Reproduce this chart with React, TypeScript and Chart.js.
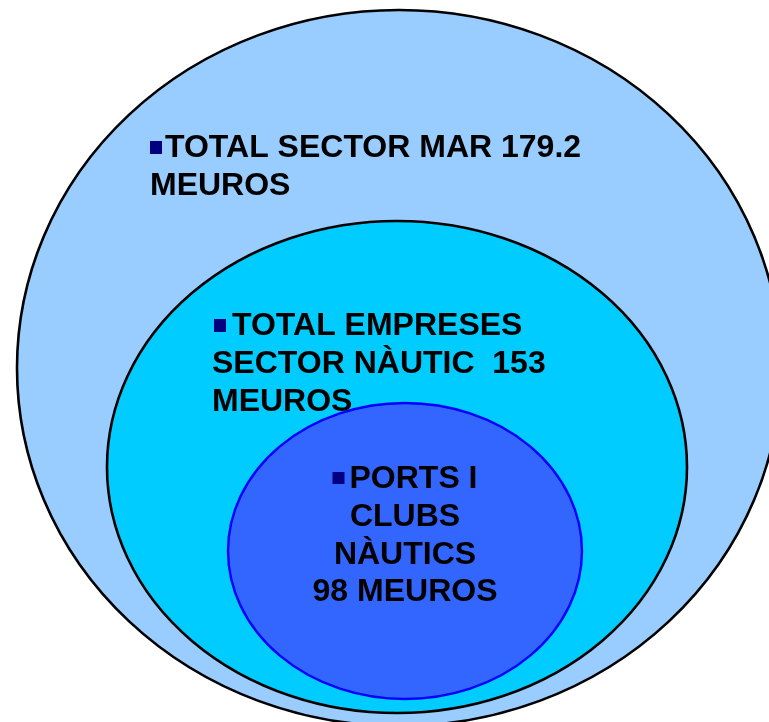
import React, { useEffect, useRef } from "react";
import { Chart, registerables } from "chart.js";

Chart.register(...registerables);

// ---- data ----
const categories = ["TOTAL SECTOR MAR", "TOTAL EMPRESES SECTOR NÀUTIC", "PORTS I CLUBS NÀUTICS"];
const valuesMEuros = [179.2, 153, 98];
const unitLabel = "MEUROS";
const labelLines = [
  ["TOTAL SECTOR MAR " + valuesMEuros[0], unitLabel],
  ["TOTAL EMPRESES", "SECTOR NÀUTIC  " + valuesMEuros[1], unitLabel],
  ["PORTS I", "CLUBS", "NÀUTICS", valuesMEuros[2] + " " + unitLabel],
];

// ---- layout (data units of the hidden scales) ----
const centerX = [399, 397, 405];
const centerY = [368, 467, 551];
const radiusX = [382, 290, 177];
const radiusY = [358, 246, 148];

const fillColors = ["#99CCFF", "#00CCFF", "#3366FF"];
const strokeColors = ["#000000", "#000000", "#0000FF"];
const strokeWidths = [2.6, 2.6, 2.4];

const textBlocks = [
  { align: "left", bulletX: 150, textX: 165, restX: 150, baseline: 157 },
  { align: "left", bulletX: 214, textX: 232, restX: 212, baseline: 335 },
  { align: "center", centerX: 405, baseline: 488 },
];
const LINE_H = 37.8;
const FONT = "bold 32px 'Liberation Sans', Arial, sans-serif";
const BULLET = 13;

const ellipsePlugin = {
  id: "nestedEllipses",
  beforeDatasetsDraw(chart: any) {
    const { ctx } = chart;
    const xs = chart.scales.x;
    const ys = chart.scales.y;
    chart.data.datasets.forEach((ds: any) => {
      const p = ds.data[0];
      const cx = xs.getPixelForValue(p.x);
      const cy = ys.getPixelForValue(p.y);
      const rx = Math.abs(xs.getPixelForValue(p.x + p.rx) - cx);
      const ry = Math.abs(ys.getPixelForValue(p.y + p.ry) - cy);
      ctx.save();
      ctx.beginPath();
      ctx.ellipse(cx, cy, rx, ry, 0, 0, Math.PI * 2);
      ctx.fillStyle = ds.backgroundColor;
      ctx.fill();
      ctx.lineWidth = ds.borderWidth;
      ctx.strokeStyle = ds.borderColor;
      ctx.stroke();
      ctx.restore();
    });
  },
  afterDatasetsDraw(chart: any) {
    const { ctx } = chart;
    ctx.save();
    ctx.font = FONT;
    ctx.textBaseline = "alphabetic";
    labelLines.forEach((lines, i) => {
      const b: any = textBlocks[i];
      lines.forEach((line, j) => {
        const yb = b.baseline + j * LINE_H;
        if (b.align === "left") {
          if (j === 0) {
            ctx.fillStyle = "#000080";
            ctx.fillRect(b.bulletX, yb - 3 - BULLET, BULLET - 1, BULLET);
            ctx.fillStyle = "#000000";
            ctx.textAlign = "left";
            ctx.fillText(line, b.textX, yb);
          } else {
            ctx.fillStyle = "#000000";
            ctx.textAlign = "left";
            ctx.fillText(line, b.restX, yb);
          }
        } else {
          const w = ctx.measureText(line).width;
          if (j === 0) {
            const total = BULLET + 4 + w;
            const start = b.centerX - total / 2;
            ctx.fillStyle = "#000080";
            ctx.fillRect(start, yb - 3 - BULLET, BULLET - 1, BULLET - 1);
            ctx.fillStyle = "#000000";
            ctx.textAlign = "left";
            ctx.fillText(line, start + BULLET + 4, yb);
          } else {
            ctx.fillStyle = "#000000";
            ctx.textAlign = "center";
            ctx.fillText(line, b.centerX, yb);
          }
        }
      });
    });
    ctx.restore();
  },
};

export default function App() {
  const ref = useRef<HTMLCanvasElement | null>(null);
  useEffect(() => {
    if (!ref.current) return;
    const chart = new Chart(ref.current, {
      type: "scatter",
      data: {
        datasets: categories.map((c, i) => ({
          label: c,
          data: [{ x: centerX[i], y: centerY[i], rx: radiusX[i], ry: radiusY[i], v: valuesMEuros[i] }],
          backgroundColor: fillColors[i],
          borderColor: strokeColors[i],
          borderWidth: strokeWidths[i],
          pointRadius: 0,
          pointHoverRadius: 0,
        })) as any,
      },
      options: {
        animation: false,
        responsive: false,
        events: [],
        layout: { padding: 0 },
        plugins: { legend: { display: false }, tooltip: { enabled: false } },
        scales: {
          x: { type: "linear", min: 0, max: 769, display: false },
          y: { type: "linear", min: 0, max: 722, reverse: true, display: false },
        },
      },
      plugins: [ellipsePlugin],
    });
    return () => chart.destroy();
  }, []);
  return (
    <div style={{ position: "fixed", left: 0, top: 0, width: 769, height: 722, background: "#fff" }}>
      <canvas ref={ref} width={769} height={722} style={{ display: "block", width: 769, height: 722 }} />
    </div>
  );
}
